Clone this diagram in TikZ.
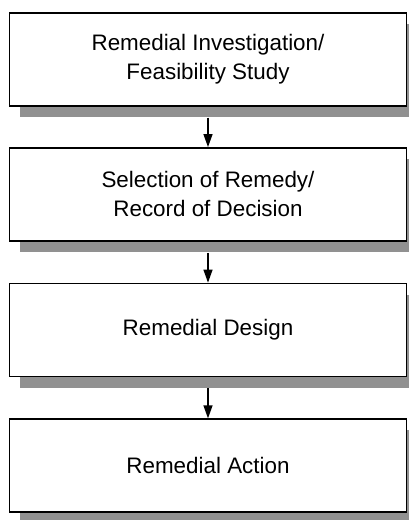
\documentclass[tikz,border=0pt]{standalone}
\usepackage{fontspec}
\setmainfont{Liberation Sans}
\usetikzlibrary{arrows.meta,shadows}
\definecolor{shadowgray}{RGB}{145,145,145}
\tikzset{
  stagebox/.style={draw=black, line width=1.7pt, fill=white, minimum width=397pt, minimum height=93pt,
    inner sep=0pt, align=center, font=\fontsize{22.4pt}{29pt}\selectfont,
    drop shadow={shadow xshift=10pt, shadow yshift=-11pt, fill=shadowgray, opacity=1, draw=none}},
  flow/.style={line width=1.3pt, -{Triangle[length=13pt,width=9pt]}}
}
\begin{document}
\begin{tikzpicture}[x=1pt,y=1pt]
\useasboundingbox (0,0) rectangle (409,-520);
\node[stagebox] (b1) at (208,-59.2) {Remedial Investigation/\\Feasibility Study};
\node[stagebox] (b2) at (208,-194.4) {Selection of Remedy/\\Record of Decision};
\node[stagebox] (b3) at (208,-330) {Remedial Design};
\node[stagebox] (b4) at (208,-465.7) {Remedial Action};
\coordinate (s1) at ([yshift=-11pt]b1.south);
\coordinate (s2) at ([yshift=-11pt]b2.south);
\coordinate (s3) at ([yshift=-11pt]b3.south);
\draw[flow] (s1) -- (b2.north);
\draw[flow] (s2) -- (b3.north);
\draw[flow] (s3) -- (b4.north);
\end{tikzpicture}
\end{document}
